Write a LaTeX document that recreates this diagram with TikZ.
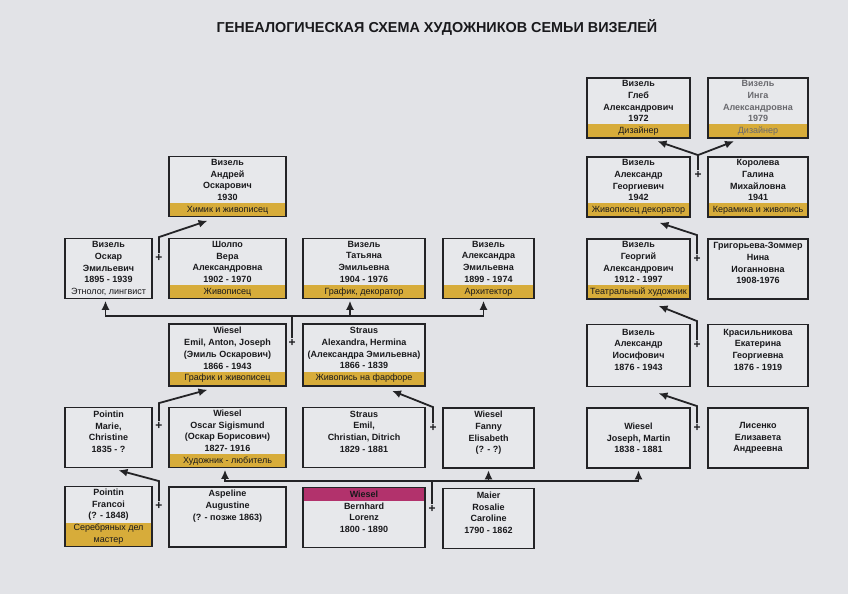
\documentclass[tikz,border=0pt]{standalone}
\usepackage{fontspec}
\setmainfont{Liberation Sans}
\usepackage{xcolor}
\usepackage{tikz}
\usetikzlibrary{arrows.meta}

\definecolor{paper}{RGB}{226,227,231}
\definecolor{boxfill}{RGB}{231,232,235}
\definecolor{inkline}{RGB}{35,35,38}
\definecolor{inktext}{RGB}{25,25,28}
\definecolor{fadedtext}{RGB}{105,105,110}
\definecolor{bandgold}{RGB}{215,172,58}
\definecolor{bandrose}{RGB}{178,50,108}

\newcommand{\job}[1]{{\mdseries #1}}

\begin{document}
\begin{tikzpicture}[x=1pt, y=-1pt,
        person/.style 2 args={draw=inkline, line width=1.5pt, fill=boxfill, rectangle, align=center, inner sep=1pt,
                text=inktext, font=\fontsize{9}{11.7}\selectfont\bfseries, minimum width=#1, minimum height=#2},
        gold/.style={path picture={\fill[bandgold] (path picture bounding box.south west) rectangle ([yshift=#1]path picture bounding box.south east);}},
        gold/.default=14pt,
        rose/.style={path picture={\fill[bandrose] (path picture bounding box.north west) rectangle ([yshift=-13pt]path picture bounding box.north east);}},
        plus/.style={font=\fontsize{12}{14}\selectfont\bfseries, inner sep=1.2pt, text=inktext},
        wire/.style={draw=inkline, line width=1.8pt},
        link/.style={wire, -{Latex[length=9pt,width=8pt]}},
        title/.style={font=\fontsize{14.4}{17}\selectfont\bfseries, text=inktext}]
        \fill[paper] (0,0) rectangle (848,594);
        \useasboundingbox (0,0) rectangle (848,594);

        \node[title] (title) at (437,27) {ГЕНЕАЛОГИЧЕСКАЯ СХЕМА ХУДОЖНИКОВ СЕМЬИ ВИЗЕЛЕЙ};

        % top right
        \node[person={103pt}{60pt}, gold] (gleb) at (638.5,108) {Визель\\Глеб\\Александрович\\1972\\\job{Дизайнер}};
        \node[person={100pt}{60pt}, gold, text=fadedtext] (inga) at (758,108) {Визель\\Инга\\Александровна\\1979\\\job{Дизайнер}};

        \node[person={117pt}{60pt}, gold] (andrey) at (227.5,186.5) {Визель\\Андрей\\Оскарович\\1930\\\job{Химик и живописец}};
        \node[person={103pt}{60pt}, gold] (alexG) at (638.5,187) {Визель\\Александр\\Георгиевич\\1942\\\job{Живописец декоратор}};
        \node[person={100pt}{60pt}, gold] (koroleva) at (758,187) {Королева\\Галина\\Михайловна\\1941\\\job{Керамика и живопись}};

        \node[person={87pt}{60pt}] (oscar) at (108.5,268.5) {Визель\\Оскар\\Эмильевич\\1895 - 1939\\\job{Этнолог, лингвист}};
        \node[person={117pt}{60pt}, gold] (vera) at (227.5,268.5) {Шолпо\\Вера\\Александровна\\1902 - 1970\\\job{Живописец}};
        \node[person={122pt}{60pt}, gold] (tatiana) at (364,268.5) {Визель\\Татьяна\\Эмильевна\\1904 - 1976\\\job{График, декоратор}};
        \node[person={91pt}{60pt}, gold] (alexandra) at (488.5,268.5) {Визель\\Александра\\Эмильевна\\1899 - 1974\\\job{Архитектор}};
        \node[person={103pt}{60pt}, gold] (georgy) at (638.5,269) {Визель\\Георгий\\Александрович\\1912 - 1997\\\job{Театральный художник}};
        \node[person={100pt}{60pt}] (grigorieva) at (758,269) {Григорьева-Зоммер\\Нина\\Иоганновна\\1908-1976\\~};

        \node[person={117pt}{62pt}, gold] (emil) at (227.5,355) {Wiesel\\Emil, Anton, Joseph\\(Эмиль Оскарович)\\1866 - 1943\\\job{График и живописец}};
        \node[person={122pt}{62pt}, gold] (hermina) at (364,355) {Straus\\Alexandra, Hermina\\(Александра Эмильевна)\\1866 - 1839\\\job{Живопись на фарфоре}};
        \node[person={103pt}{62pt}] (alexI) at (638.5,355.5) {Визель\\Александр\\Иосифович\\1876 - 1943\\~};
        \node[person={100pt}{62pt}] (krasiln) at (758,355.5) {Красильникова\\Екатерина\\Георгиевна\\1876 - 1919\\~};

        \node[person={87pt}{60pt}] (marie) at (108.5,437.5) {Pointin\\Marie,\\Christine\\1835 - ?\\~};
        \node[person={117pt}{60pt}, gold] (oscarS) at (227.5,437.5) {Wiesel\\Oscar Sigismund\\(Оскар Борисович)\\1827- 1916\\\job{Художник - любитель}};
        \node[person={122pt}{60pt}] (ditrich) at (364,437.5) {Straus\\Emil,\\Christian, Ditrich\\1829 - 1881\\~};
        \node[person={91pt}{60pt}] (fanny) at (488.5,438) {Wiesel\\Fanny\\Elisabeth\\(? - ?)\\~};
        \node[person={103pt}{60pt}] (joseph) at (638.5,438) {Wiesel\\Joseph, Martin\\1838 - 1881};
        \node[person={100pt}{60pt}] (lisenko) at (758,438) {Лисенко\\Елизавета\\Андреевна};

        \node[person={87pt}{60pt}, gold=24pt] (francoi) at (108.5,516.5) {Pointin\\Francoi\\(? - 1848)\\\job{Серебряных дел}\\\job{мастер}};
        \node[person={117pt}{60pt}] (aspeline) at (227.5,517) {Aspeline\\Augustine\\(? - позже 1863)\\~\\~};
        \node[person={122pt}{60pt}, rose] (bernhard) at (364,517.5) {Wiesel\\Bernhard\\Lorenz\\1800 - 1890\\~};
        \node[person={91pt}{60pt}] (maier) at (488.5,518.5) {Maier\\Rosalie\\Caroline\\1790 - 1862\\~};

        % couples
        \node[plus] (pAQ) at (698,175) {+};
        \node[plus] (pGG) at (697,259) {+};
        \node[plus] (pOA) at (159,258) {+};
        \node[plus] (pEA) at (292,343) {+};
        \node[plus] (pAK) at (697,345) {+};
        \node[plus] (pMO) at (159,426) {+};
        \node[plus] (pSF) at (433,428) {+};
        \node[plus] (pJL) at (697,428) {+};
        \node[plus] (pFA) at (159,506) {+};
        \node[plus] (pBM) at (432,509) {+};

        \draw[wire] (pAQ.north) -- ++(0,-15) coordinate (forkAQ);
        \draw[link] (forkAQ) -- ([shift={(19,2.5)}]gleb.south);
        \draw[link] (forkAQ) -- ([shift={(-24,2.5)}]inga.south);
        \draw[link] (pGG.north) -- ++(0,-19) -- ([shift={(21,5)}]alexG.south);
        \draw[link] (pOA.north) -- ++(0,-16) -- ([shift={(-20,3.5)}]andrey.south);
        \draw[wire] (pEA.north) -- ++(0,-22) coordinate (busEA);
        \draw[link] (busEA) -| ([shift={(-3,1.5)}]oscar.south);
        \draw[link] (busEA) -| ([shift={(-14,1.5)}]tatiana.south);
        \draw[link] (busEA) -| ([shift={(-5,1.5)}]alexandra.south);
        \draw[link] (pAK.north) -- ++(0,-19) -- ([shift={(20,6)}]georgy.south);
        \draw[link] (pMO.north) -- ++(0,-18) -- ([shift={(-20,3)}]emil.south);
        \draw[link] (pSF.north) -- ++(0,-16) -- ([shift={(28,4)}]hermina.south);
        \draw[link] (pJL.north) -- ++(0,-17) -- ([shift={(20,6)}]alexI.south);
        \draw[link] (pFA.north) -- ++(0,-20) -- ([shift={(10,2)}]marie.south);
        \draw[wire] (pBM.north) -- ++(0,-23) coordinate (busBM);
        \draw[link] (busBM) -| ([shift={(-2.5,1.5)}]oscarS.south);
        \draw[link] (busBM) -| ([shift={(0,1.5)}]fanny.south);
        \draw[link] (busBM) -| ([shift={(0,1.5)}]joseph.south);
\end{tikzpicture}
\end{document}
